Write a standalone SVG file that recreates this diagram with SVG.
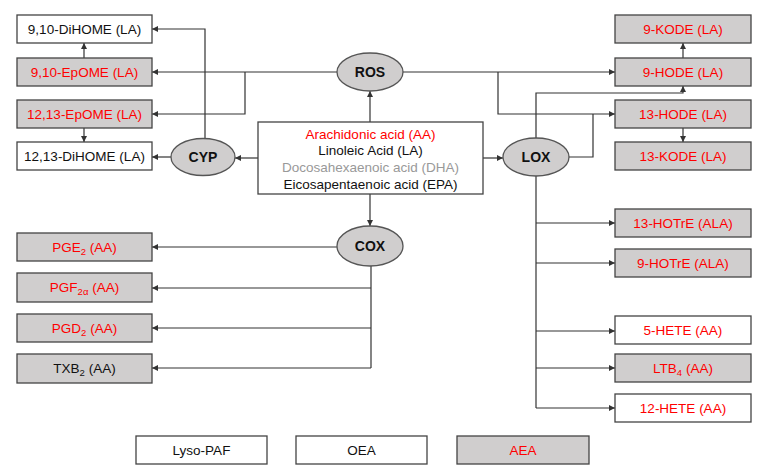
<svg xmlns="http://www.w3.org/2000/svg" width="768" height="475" viewBox="0 0 768 475">
<defs>
<marker id="ah" markerUnits="userSpaceOnUse" markerWidth="6" markerHeight="6" viewBox="0 0 6 6" refX="6" refY="3" orient="auto">
<path d="M0,0 L6,3 L0,6 z" fill="#333"/>
</marker>
<style>
.b{fill:#fff;stroke:#444;stroke-width:1.3}
.g{fill:#d0cece;stroke:#444;stroke-width:1.3}
.e{fill:#d0cece;stroke:#555;stroke-width:1.3}
text{font-family:"Liberation Sans",Arial,sans-serif;font-size:13.5px;text-anchor:middle}
.r{fill:#ff0000}
.k{fill:#111}
.d{fill:#999}
.en{font-weight:bold;font-size:14px;fill:#111}
.c path{fill:none;stroke:#333;stroke-width:1.2}
.s{font-size:9.5px}
</style>
</defs>
<g class="c" id="connectors">
<path d="M205,139 V29 H152" marker-end="url(#ah)"/>
<path d="M171,157 H152" marker-end="url(#ah)"/>
<path d="M84,58 V43" marker-end="url(#ah)"/>
<path d="M84,128 V142" marker-end="url(#ah)"/>
<path d="M337,72 H152" marker-end="url(#ah)"/>
<path d="M245,72 V114 H152" marker-end="url(#ah)"/>
<path d="M403,72 H615" marker-end="url(#ah)"/>
<path d="M498,72 V114 H615" marker-end="url(#ah)"/>
<path d="M370,122 V91" marker-end="url(#ah)"/>
<path d="M370,194 V226" marker-end="url(#ah)"/>
<path d="M258,158 H235" marker-end="url(#ah)"/>
<path d="M483,158 H503" marker-end="url(#ah)"/>
<path d="M536,138 V93 H683 V86" marker-end="url(#ah)"/>
<path d="M569,157 H593 V114"/>
<path d="M683,58 V43" marker-end="url(#ah)"/>
<path d="M683,128 V142" marker-end="url(#ah)"/>
<path d="M536,176 V408"/>
<path d="M536,223 H615" marker-end="url(#ah)"/>
<path d="M536,263 H615" marker-end="url(#ah)"/>
<path d="M536,331 H615" marker-end="url(#ah)"/>
<path d="M536,368 H615" marker-end="url(#ah)"/>
<path d="M536,408 H615" marker-end="url(#ah)"/>
<path d="M337,247 H152" marker-end="url(#ah)"/>
<path d="M371,266 V368"/>
<path d="M371,288 H152" marker-end="url(#ah)"/>
<path d="M371,328 H152" marker-end="url(#ah)"/>
<path d="M371,368 H152" marker-end="url(#ah)"/>
</g>
<g id="center"><rect class="b" x="258" y="122" width="225" height="72"/>
<text x="370.5" y="139" class="r">Arachidonic acid (AA)</text>
<text x="370.5" y="155" class="k">Linoleic Acid (LA)</text>
<text x="370.5" y="171.5" class="d">Docosahexaenoic acid (DHA)</text>
<text x="370.5" y="188.5" class="k">Eicosapentaenoic acid (EPA)</text></g>
<g id="ros"><ellipse class="e" cx="370" cy="72" rx="33" ry="19"/><text class="en" x="370" y="77">ROS</text></g>
<g id="cyp"><ellipse class="e" cx="203" cy="157" rx="32" ry="18.5"/><text class="en" x="203" y="162">CYP</text></g>
<g id="lox"><ellipse class="e" cx="536" cy="157" rx="33" ry="19"/><text class="en" x="536" y="162">LOX</text></g>
<g id="cox"><ellipse class="e" cx="370" cy="246" rx="33" ry="20"/><text class="en" x="370" y="251">COX</text></g>
<g id="dihome910"><rect class="b" x="17" y="15" width="135" height="28"/><text class="k" x="84.5" y="33.7">9,10-DiHOME (LA)</text></g>
<g id="epome910"><rect class="g" x="17" y="58" width="135" height="28"/><text class="r" x="84.5" y="76.7">9,10-EpOME (LA)</text></g>
<g id="epome1213"><rect class="g" x="17" y="100" width="135" height="28"/><text class="r" x="84.5" y="118.7">12,13-EpOME (LA)</text></g>
<g id="dihome1213"><rect class="b" x="17" y="142" width="135" height="28"/><text class="k" x="84.5" y="160.7">12,13-DiHOME (LA)</text></g>
<g id="kode9"><rect class="g" x="615" y="15" width="136" height="28"/><text class="r" x="683" y="33.7">9-KODE (LA)</text></g>
<g id="hode9"><rect class="g" x="615" y="58" width="136" height="28"/><text class="r" x="683" y="76.7">9-HODE (LA)</text></g>
<g id="hode13"><rect class="g" x="615" y="100" width="136" height="28"/><text class="r" x="683" y="118.7">13-HODE (LA)</text></g>
<g id="kode13"><rect class="g" x="615" y="142" width="136" height="28"/><text class="r" x="683" y="160.7">13-KODE (LA)</text></g>
<g id="hotre13"><rect class="g" x="615" y="209" width="136" height="28"/><text class="r" x="683" y="227.7">13-HOTrE (ALA)</text></g>
<g id="hotre9"><rect class="g" x="615" y="249" width="136" height="28"/><text class="r" x="683" y="267.7">9-HOTrE (ALA)</text></g>
<g id="hete5"><rect class="b" x="615" y="316" width="136" height="28"/><text class="r" x="683" y="334.7">5-HETE (AA)</text></g>
<g id="ltb4"><rect class="g" x="615" y="354" width="136" height="28"/><text class="r" x="683" y="372.7">LTB<tspan class="s" dy="3">4</tspan><tspan dy="-3"> (AA)</tspan></text></g>
<g id="hete12"><rect class="b" x="615" y="394" width="136" height="28"/><text class="r" x="683" y="412.7">12-HETE (AA)</text></g>
<g id="pge2"><rect class="g" x="17" y="233" width="135" height="28"/><text class="r" x="84.5" y="251.7">PGE<tspan class="s" dy="3">2</tspan><tspan dy="-3"> (AA)</tspan></text></g>
<g id="pgf2a"><rect class="g" x="17" y="273" width="135" height="29"/><text class="r" x="84.5" y="292.2">PGF<tspan class="s" dy="3">2α</tspan><tspan dy="-3"> (AA)</tspan></text></g>
<g id="pgd2"><rect class="g" x="17" y="314" width="135" height="28"/><text class="r" x="84.5" y="332.7">PGD<tspan class="s" dy="3">2</tspan><tspan dy="-3"> (AA)</tspan></text></g>
<g id="txb2"><rect class="g" x="17" y="354" width="135" height="29"/><text class="k" x="84.5" y="373.2">TXB<tspan class="s" dy="3">2</tspan><tspan dy="-3"> (AA)</tspan></text></g>
<g id="lysopaf"><rect class="b" x="136" y="436" width="131" height="28"/><text class="k" x="201.5" y="454.7">Lyso-PAF</text></g>
<g id="oea"><rect class="b" x="296" y="436" width="131" height="28"/><text class="k" x="361.5" y="454.7">OEA</text></g>
<g id="aea"><rect class="g" x="457" y="436" width="132" height="28"/><text class="r" x="523" y="454.7">AEA</text></g>
</svg>
